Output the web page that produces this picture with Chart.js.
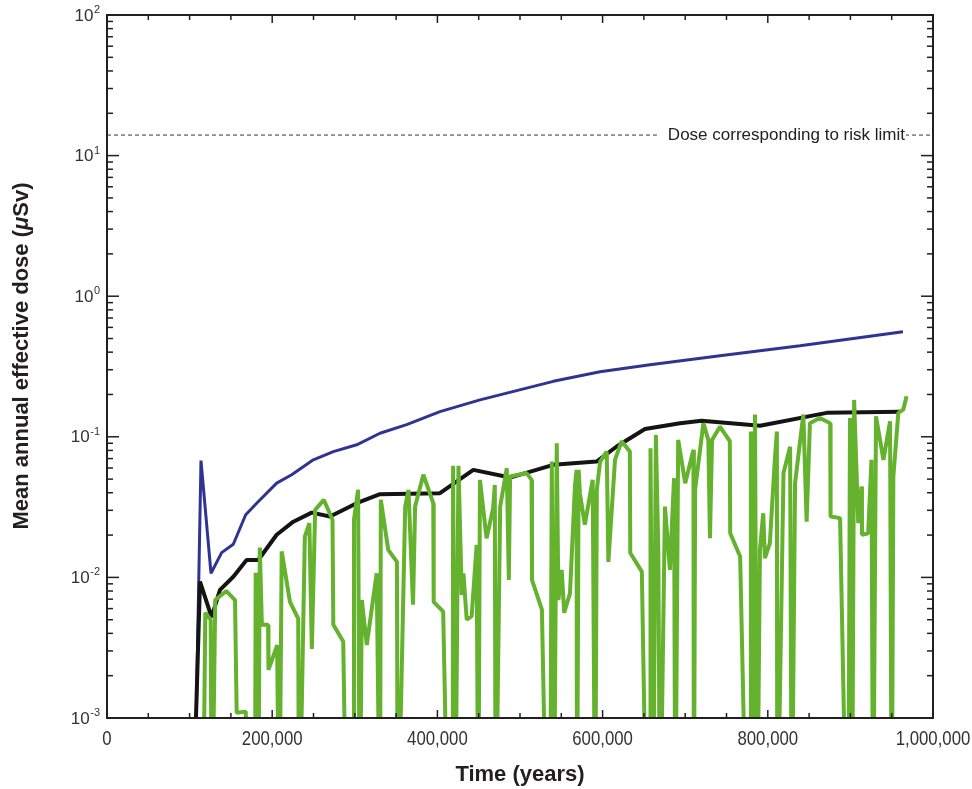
<!DOCTYPE html>
<html>
<head>
<meta charset="utf-8">
<script src="https://cdn.jsdelivr.net/npm/chart.js@4/dist/chart.umd.min.js"></script>
<style>
    html, body { margin: 0; padding: 0; background: #fff; }
    #wrap { width: 972px; height: 789px; }
</style>
</head>
<body>
<div id="wrap"><canvas id="dose-chart" width="972" height="789"></canvas></div>
<script>
// time in years, dose in µSv; 0.0001 means the curve drops below the 10^-3 axis
var blueYears = [108000, 113800, 125900, 138800, 152900, 167900, 181200, 205400, 223600, 249800, 274000, 302300, 330500, 362800, 403100, 451600, 540300, 596900, 657400, 742100, 839000, 963600];
var blueDose = [0.001, 0.0678, 0.0107, 0.0150, 0.0172, 0.0279, 0.0337, 0.0468, 0.0537, 0.0686, 0.0785, 0.0877, 0.106, 0.122, 0.151, 0.183, 0.248, 0.290, 0.325, 0.377, 0.445, 0.559];

var blackYears = [107700, 112600, 126600, 136800, 152900, 169000, 183200, 205400, 225600, 247800, 270000, 302300, 330500, 403100, 443500, 487900, 540300, 592700, 617000, 651300, 693700, 719800, 790600, 871300, 960000];
var blackDose = [0.001, 0.00933, 0.00521, 0.00815, 0.0101, 0.0133, 0.0133, 0.0201, 0.0249, 0.0289, 0.0271, 0.0337, 0.0391, 0.0397, 0.0582, 0.0513, 0.0632, 0.0667, 0.0853, 0.1135, 0.125, 0.130, 0.120, 0.148, 0.151];

var greenYears = [
    116000, 119000, 125500, 127000, 131000, 144500, 155000, 157000, 168000, 169500,
    179000, 180000, 183000, 185000, 187500, 195000, 195500, 206000, 208500, 211500,
    221500, 231500, 232500, 239500, 245000, 248000, 252000, 262500, 273000, 274000,
    286000, 290000, 298000, 299000, 304000, 306000, 308500, 314500, 326500, 330500,
    331500, 340500, 351000, 352000, 361000, 365000, 370500, 373000, 383000, 395000,
    395500, 407000, 413000, 418500, 419000, 421500, 425500, 429500, 431500, 435500,
    441500, 447500, 449500, 451500, 459500, 467500, 469500, 470500, 476000, 484000,
    486500, 488000, 508000, 514000, 514500, 526500, 532500, 536500, 538500, 541000,
    544500, 546500, 550500, 553500, 560500, 566500, 568500, 569000, 571000, 572500,
    578500, 588000, 591000, 593000, 597000, 605000, 607000, 615000, 623000, 633000,
    633500, 647500, 653500, 657500, 658000, 661000, 664500, 667500, 669500, 675500,
    681500, 686500, 688000, 691500, 700000, 710000, 710500, 712000, 722000, 728000,
    730000, 732500, 742000, 754000, 754500, 766500, 774500, 778500, 779500, 782000,
    784500, 787000, 790500, 794500, 796500, 802500, 808500, 811000, 811500, 819000,
    827000, 829000, 833000, 843000, 847000, 851000, 863000, 875500, 876000, 887500,
    895500, 897500, 899500, 902000, 904500, 909500, 913500, 914000, 921500, 925500,
    927500, 931000, 940000, 948000, 950000, 952000, 958000, 964000, 968000
];
var greenDose = [
    0.0001, 0.0056, 0.0050, 0.0001, 0.0069, 0.0080, 0.0069, 0.00109, 0.00111, 0.0001,
    0.0001, 0.0108, 0.0001, 0.0163, 0.0046, 0.0046, 0.0022, 0.0033, 0.0001, 0.0153,
    0.0067, 0.0051, 0.0001, 0.0195, 0.0243, 0.0031, 0.0302, 0.0356, 0.0257, 0.0046,
    0.0035, 0.0001, 0.0001, 0.0257, 0.0420, 0.0001, 0.0069, 0.0033, 0.0107, 0.0001,
    0.0356, 0.0157, 0.0129, 0.0001, 0.0319, 0.0420, 0.0064, 0.0319, 0.0537, 0.0337,
    0.0067, 0.0057, 0.0001, 0.0001, 0.0622, 0.0001, 0.0622, 0.0075, 0.0107, 0.0050,
    0.0053, 0.0170, 0.0001, 0.0494, 0.0190, 0.0311, 0.0455, 0.0001, 0.0319, 0.0598,
    0.0096, 0.0522, 0.0552, 0.0494, 0.0096, 0.0059, 0.0001, 0.0001, 0.0667, 0.0001,
    0.090, 0.0069, 0.0113, 0.0056, 0.0077, 0.0443, 0.0582, 0.0001, 0.0582, 0.0397,
    0.0237, 0.0494, 0.0001, 0.0420, 0.0667, 0.0786, 0.0129, 0.0686, 0.093, 0.0786,
    0.0149, 0.0110, 0.0001, 0.0001, 0.083, 0.0001, 0.103, 0.0149, 0.0001, 0.0319,
    0.0113, 0.0508, 0.0001, 0.095, 0.0468, 0.081, 0.0001, 0.0420, 0.125, 0.095,
    0.0190, 0.095, 0.118, 0.093, 0.0206, 0.0141, 0.0001, 0.0001, 0.109, 0.0001,
    0.144, 0.0001, 0.0157, 0.0286, 0.0137, 0.0175, 0.0686, 0.109, 0.0001, 0.0552,
    0.085, 0.0001, 0.0468, 0.144, 0.0249, 0.125, 0.136, 0.125, 0.0271, 0.0264,
    0.0001, 0.0001, 0.136, 0.0001, 0.183, 0.0243, 0.0443, 0.0201, 0.0206, 0.0686,
    0.0001, 0.140, 0.0686, 0.129, 0.0001, 0.0522, 0.148, 0.156, 0.194
];

var riskLimitDose = 14;
var riskLimitLabel = 'Dose corresponding to risk limit';

var xTickValues = [0, 200000, 400000, 600000, 800000, 1000000];
var xTickLabels = ['0', '200,000', '400,000', '600,000', '800,000', '1,000,000'];
var yTickValues = [100, 10, 1, 0.1, 0.01, 0.001];
var yTickExponents = ['2', '1', '0', '-1', '-2', '-3'];

var xTitle = 'Time (years)';
var yTitleParts = ['Mean annual effective dose (', '\u03bc', 'Sv)'];

function points(xs, ys) {
    return xs.map(function (x, i) { return { x: x, y: ys[i] }; });
}

var FONT = "'Liberation Sans', Arial, sans-serif";
var INK = '#231f20';

var axesPlugin = {
    id: 'axesPlugin',
    afterDatasetsDraw: function (chart) {
        var ctx = chart.ctx;
        var a = chart.chartArea;
        var xs = chart.scales.x;
        var ys = chart.scales.y;
        ctx.save();

        // label on the risk limit line, with a gap cut in the dashes
        var ly = ys.getPixelForValue(riskLimitDose);
        ctx.font = '17px ' + FONT;
        var lw = ctx.measureText(riskLimitLabel).width;
        var lRight = a.right - 28;
        ctx.fillStyle = '#fff';
        ctx.fillRect(lRight - lw - 11, ly - 4, lw + 12, 8);
        ctx.fillStyle = '#222';
        ctx.textAlign = 'right';
        ctx.textBaseline = 'middle';
        ctx.fillText(riskLimitLabel, lRight, ly);

        // frame
        ctx.strokeStyle = INK;
        ctx.lineWidth = 2;
        ctx.strokeRect(a.left, a.top, a.right - a.left, a.bottom - a.top);

        function seg(x1, y1, x2, y2) {
            ctx.beginPath();
            ctx.moveTo(x1, y1);
            ctx.lineTo(x2, y2);
            ctx.stroke();
        }

        // x ticks pointing inward, top and bottom
        ctx.lineWidth = 1.5;
        for (var t = 0; t <= 1000000; t += 50000) {
            var px = xs.getPixelForValue(t);
            var len = t % 200000 === 0 ? 8 : 5;
            seg(px, a.bottom, px, a.bottom - len);
            seg(px, a.top, px, a.top + len);
        }

        // y ticks, decades long, 2..9 short
        for (var d = -3; d <= 2; d++) {
            for (var m = 1; m <= 9; m++) {
                var v = m * Math.pow(10, d);
                if (v > 100.0001) break;
                var py = ys.getPixelForValue(v);
                var ylen = m === 1 ? 12 : 6;
                seg(a.left, py, a.left + ylen, py);
                seg(a.right, py, a.right - ylen, py);
            }
        }

        // x tick labels, narrow face
        ctx.fillStyle = '#333';
        ctx.font = '21px ' + FONT;
        ctx.textAlign = 'center';
        ctx.textBaseline = 'middle';
        xTickValues.forEach(function (val, i) {
            ctx.save();
            ctx.translate(xs.getPixelForValue(val), a.bottom + 21);
            ctx.scale(0.8, 1);
            ctx.fillText(xTickLabels[i], 0, 0);
            ctx.restore();
        });

        // y tick labels as 10 with superscript
        yTickValues.forEach(function (val, i) {
            var yy = ys.getPixelForValue(val);
            ctx.textAlign = 'right';
            ctx.font = '11px ' + FONT;
            ctx.textBaseline = 'alphabetic';
            var sw = ctx.measureText(yTickExponents[i]).width;
            ctx.fillText(yTickExponents[i], a.left - 7, yy - 2);
            ctx.font = '17px ' + FONT;
            ctx.textBaseline = 'middle';
            ctx.fillText('10', a.left - 7 - sw - 0.5, yy + 1);
        });

        // axis titles
        ctx.fillStyle = INK;
        ctx.font = 'bold 22px ' + FONT;
        ctx.textAlign = 'center';
        ctx.textBaseline = 'middle';
        ctx.fillText(xTitle, (a.left + a.right) / 2, a.bottom + 57);

        ctx.translate(22, 356);
        ctx.rotate(-Math.PI / 2);
        var fonts = ['bold 22px ' + FONT, 'italic bold 22px ' + FONT, 'bold 22px ' + FONT];
        var total = 0;
        yTitleParts.forEach(function (s, i) { ctx.font = fonts[i]; total += ctx.measureText(s).width; });
        var cx = -total / 2;
        ctx.textAlign = 'left';
        yTitleParts.forEach(function (s, i) {
            ctx.font = fonts[i];
            ctx.fillText(s, cx, 0);
            cx += ctx.measureText(s).width;
        });

        ctx.restore();
    }
};

var ctx = document.getElementById('dose-chart').getContext('2d');
var chart = new Chart(ctx, {
    type: 'line',
    data: {
        datasets: [
            { label: 'Case A', data: points(greenYears, greenDose), borderColor: '#64b22d', borderWidth: 4, order: 1, clip: 0 },
            { label: 'Case B', data: points(blackYears, blackDose), borderColor: '#141414', borderWidth: 4, order: 2, clip: 0 },
            { label: 'Case C', data: points(blueYears, blueDose), borderColor: '#2f3392', borderWidth: 3, order: 3, clip: 0 },
            { label: 'Risk limit', data: [{ x: 0, y: riskLimitDose }, { x: 1000000, y: riskLimitDose }], borderColor: '#333', borderWidth: 1, borderDash: [4, 3], order: 4, clip: 0 }
        ]
    },
    options: {
        responsive: false,
        animation: false,
        devicePixelRatio: 1,
        layout: { padding: { left: 107, top: 15, right: 39, bottom: 71 } },
        elements: {
            point: { radius: 0 },
            line: { tension: 0, borderJoinStyle: 'bevel', fill: false }
        },
        plugins: { legend: { display: false }, tooltip: { enabled: false } },
        scales: {
            x: { type: 'linear', min: 0, max: 1000000, display: false },
            y: { type: 'logarithmic', min: 0.001, max: 100, display: false }
        }
    },
    plugins: [axesPlugin]
});
</script>
</body>
</html>
